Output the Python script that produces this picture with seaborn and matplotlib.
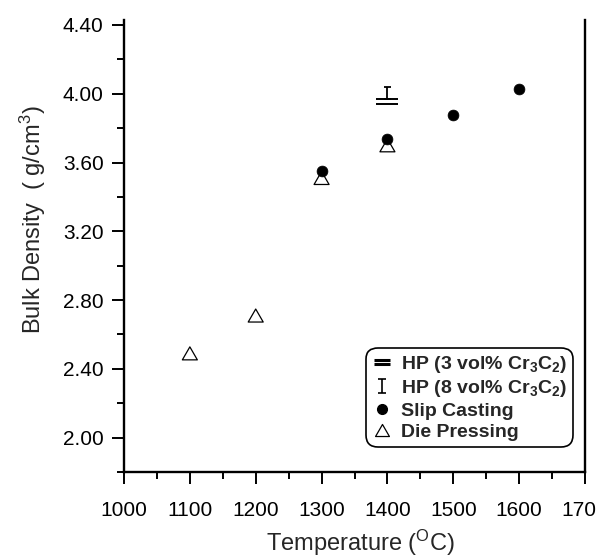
import matplotlib
matplotlib.use("Agg")
import matplotlib.pyplot as plt
import seaborn as sns
from matplotlib.path import Path
from matplotlib.lines import Line2D
from matplotlib.patches import Rectangle
from matplotlib.ticker import MultipleLocator, FormatStrFormatter

# data
slip_temp = [1300, 1400, 1500, 1600]
slip_density = [3.55, 3.735, 3.875, 4.03]
die_temp = [1100, 1200, 1300, 1400]
die_density = [2.49, 2.71, 3.51, 3.70]
hp3_temp = [1400]
hp3_density = [3.955]
hp8_temp = [1400]
hp8_density = [4.005]
labels = [r"HP (3 vol% Cr$\mathregular{_3}$C$\mathregular{_2}$)",
          r"HP (8 vol% Cr$\mathregular{_3}$C$\mathregular{_2}$)",
          "Slip Casting", "Die Pressing"]

sns.set_style("ticks")
plt.rcParams["font.family"] = ["Liberation Sans", "DejaVu Sans"]

M, L, C = Path.MOVETO, Path.LINETO, Path.CLOSEPOLY
eq_mark = Path([(-1, 0.25), (1, 0.25), (-1, -0.25), (1, -0.25)], [M, L, M, L])
i_mark = Path([(-0.6, 1), (0.6, 1), (0, 1), (0, -1), (-0.6, -1), (0.6, -1)],
              [M, L, M, L, M, L])
tri_mark = Path([(-1, -0.866), (1, -0.866), (0, 0.866), (-1, -0.866)], [M, L, L, C])

fig = plt.figure(figsize=(6.08, 5.59), dpi=100)
ax = fig.add_axes([124 / 608, 1 - 472 / 559, 461 / 608, 452.2 / 559])

sns.scatterplot(x=die_temp, y=die_density, marker=tri_mark, s=10.8 ** 2,
                color="black", facecolor="none", edgecolor="black",
                linewidth=0.9, ax=ax, legend=False, zorder=3)
sns.scatterplot(x=slip_temp, y=slip_density, marker="o", s=7.8 ** 2,
                color="black", edgecolor="black", linewidth=0.5,
                ax=ax, legend=False, zorder=4)
sns.scatterplot(x=hp3_temp, y=hp3_density, marker=eq_mark, s=15.8 ** 2,
                color="black", facecolor="none", edgecolor="black",
                linewidth=1.4, ax=ax, legend=False, zorder=4)
sns.scatterplot(x=hp8_temp, y=hp8_density, marker=i_mark, s=8.6 ** 2,
                color="black", facecolor="none", edgecolor="black",
                linewidth=1.3, ax=ax, legend=False, zorder=4)

ax.set_xlim(1000, 1700)
ax.set_ylim(1.80, 4.43)
ax.xaxis.set_major_locator(MultipleLocator(100))
ax.xaxis.set_minor_locator(MultipleLocator(50))
ax.yaxis.set_major_locator(MultipleLocator(0.4))
ax.yaxis.set_minor_locator(MultipleLocator(0.2))
ax.yaxis.set_major_formatter(FormatStrFormatter("%.2f"))
ax.set_yticks([2.0, 2.4, 2.8, 3.2, 3.6, 4.0, 4.4])

sns.despine(ax=ax, top=True, right=False)
for sp in ["left", "bottom", "right"]:
    ax.spines[sp].set_linewidth(1.7)
    ax.spines[sp].set_color("black")

ax.tick_params(axis="both", which="major", length=8.6, width=1.4,
               labelsize=15, colors="black", direction="out")
ax.tick_params(axis="both", which="minor", length=4.7, width=1.4,
               colors="black", direction="out")
ax.tick_params(axis="x", which="major", pad=12)
ax.tick_params(axis="y", which="major", pad=6)
ax.tick_params(right=False, which="both")

ax.set_xlabel(r"Temperature ($\mathregular{^O}$C)", fontsize=17)
ax.set_ylabel(r"Bulk Density  ( g/cm$\mathregular{^3}$)", fontsize=17)
ax.xaxis.set_label_coords(0.514, -0.124)
ax.yaxis.set_label_coords(-0.165, 0.557)

handles = [
    Line2D([], [], ls="none", marker=eq_mark, ms=11, mfc="none", mec="black", mew=2.2),
    Line2D([], [], ls="none", marker=i_mark, ms=10, mfc="none", mec="black", mew=1.2),
    Line2D([], [], ls="none", marker="o", ms=7, mfc="black", mec="black"),
    Line2D([], [], ls="none", marker=tri_mark, ms=10, mfc="none", mec="black", mew=0.9),
]
leg = ax.legend(handles, labels, loc="lower right", bbox_to_anchor=(0.974, 0.055),
                borderaxespad=0, prop={"weight": "bold", "size": 14},
                frameon=True, fancybox=True, framealpha=1, edgecolor="black",
                borderpad=0.3, labelspacing=0.18, handlelength=1.0,
                handletextpad=0.5)
leg.get_frame().set_linewidth(1.2)
leg.get_frame().set_boxstyle("round", pad=0, rounding_size=0.6)

# the scan is cut at the right edge
fig.patches.append(Rectangle((596 / 608, 0), 12 / 608, 1, transform=fig.transFigure,
                             facecolor="white", edgecolor="none", zorder=10))

fig.savefig("out.png", dpi=100)
